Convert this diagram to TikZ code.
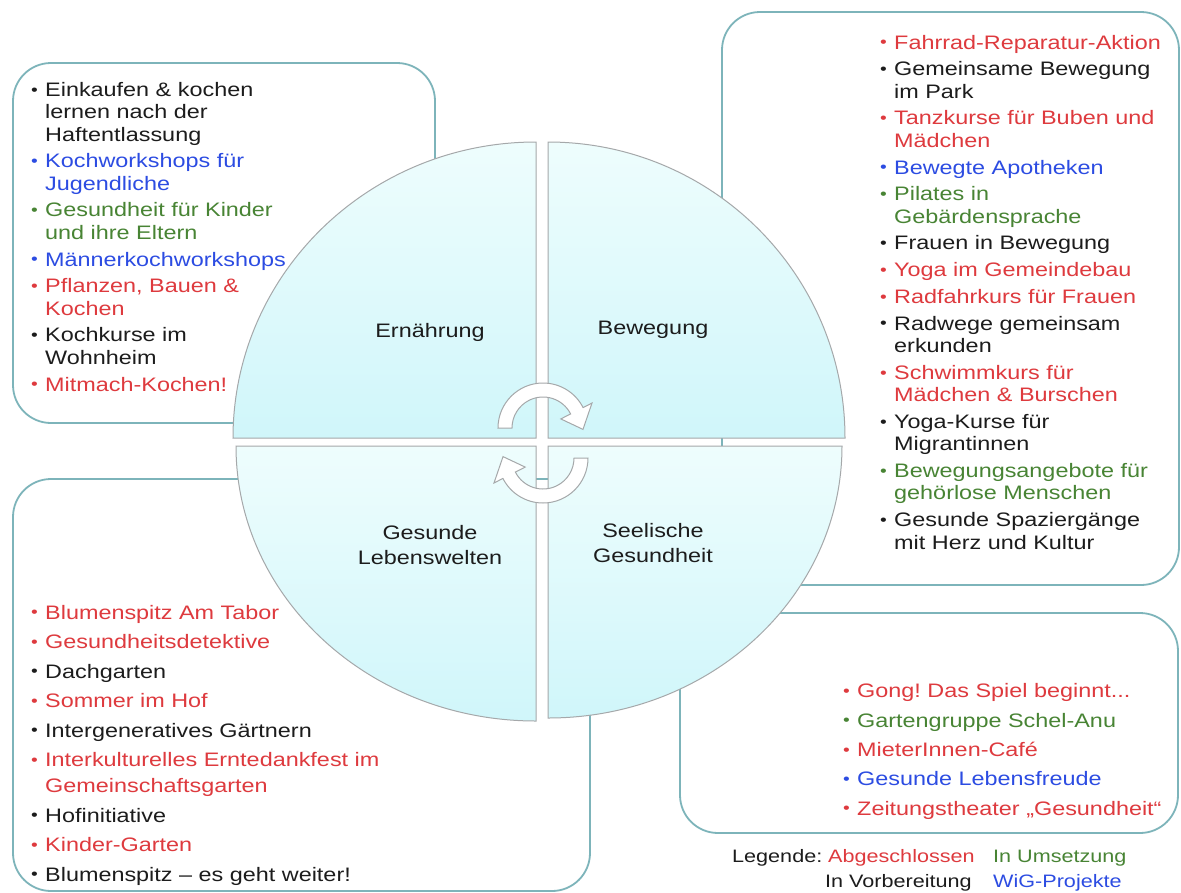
\documentclass[tikz,border=0pt]{standalone}
\usepackage{fontspec}
\setmainfont{Liberation Sans}[FakeStretch=1.2]
\usetikzlibrary{positioning,calc}
\frenchspacing
\definecolor{listred}{RGB}{222,58,62}
\definecolor{listgreen}{RGB}{72,132,52}
\definecolor{listblue}{RGB}{44,76,226}
\definecolor{listblack}{RGB}{28,28,28}
\definecolor{panelline}{RGB}{125,180,186}
\definecolor{sectorline}{RGB}{165,168,170}
\definecolor{sectortop}{RGB}{238,253,253}
\definecolor{sectorbottom}{RGB}{208,246,250}

% bullet line and continuation line of a list
\newcommand{\lit}[2]{\textcolor{#1}{\makebox[14pt][l]{\raisebox{1.4pt}{\fontsize{16}{16}\selectfont •}}#2}}
\newcommand{\cnt}[2]{\textcolor{#1}{\hspace*{14pt}#2}}

\begin{document}
\begin{tikzpicture}[
    x=1pt, y=-1pt,
    panel/.style={draw=panelline, line width=1.8pt, rounded corners=38pt, fill=white},
    sector/.style={draw=sectorline, line width=1pt, top color=sectortop, bottom color=sectorbottom},
    itemlist/.style={anchor=base west, align=left, inner sep=0pt, font=\fontsize{19.5}{22.3}\selectfont},
    sectorlabel/.style={align=center, inner sep=0pt, text=listblack, font=\fontsize{19.5}{24.5}\selectfont},
    legend/.style={anchor=base west, inner sep=0pt, font=\fontsize{18}{20}\selectfont},
    cyclearrow/.style={draw=sectorline, line width=1pt, fill=white}
]
\useasboundingbox[fill=white] (0,0) rectangle (1181,892);

% panels behind the circle
\draw[panel] (13,63) rectangle (435,423);
\draw[panel] (722,12) rectangle (1179,585);
\draw[panel] (13,479) rectangle (590,891);
\draw[panel] (680,613) rectangle (1178,833);

% the four sectors
\draw[sector] (536,438) -- (233,438) arc[start angle=180, end angle=270, x radius=303, y radius=296] -- cycle;
\draw[sector] (548,438) -- (548,142) arc[start angle=270, end angle=360, x radius=297, y radius=296] -- cycle;
\draw[sector] (536,446) -- (236,446) arc[start angle=180, end angle=90, x radius=300, y radius=275] -- cycle;
\draw[sector] (548,446) -- (842,446) arc[start angle=0, end angle=90, x radius=294, y radius=272] -- cycle;

\node[sectorlabel] (ern) at (430,332) {Ernährung};
\node[sectorlabel] (bew) at (653,330) {Bewegung};
\node[sectorlabel] (leb) at (430,545) {Gesunde\\Lebenswelten};
\node[sectorlabel] (see) at (653,543) {Seelische\\Gesundheit};

% cycle arrows
\begin{scope}[shift={(543,428)}, yscale=-1]
\draw[cyclearrow] (180:45) arc[start angle=180, end angle=27, radius=45] -- (27:55) -- (-2:40) -- (27:20) -- (27:31) arc[start angle=27, end angle=180, radius=31] -- cycle;
\end{scope}
\begin{scope}[shift={(543,458)}, yscale=-1, rotate=180]
\draw[cyclearrow] (180:45) arc[start angle=180, end angle=27, radius=45] -- (27:55) -- (-2:40) -- (27:20) -- (27:31) arc[start angle=27, end angle=180, radius=31] -- cycle;
\end{scope}

% lists, placed by the baseline of their last line
\node[itemlist] (ernlist) at (31,391) {%
\lit{listblack}{Einkaufen \& kochen}\\
\cnt{listblack}{lernen nach der}\\
\cnt{listblack}{Haftentlassung}\\[4.5pt]
\lit{listblue}{Kochworkshops für}\\
\cnt{listblue}{Jugendliche}\\[4.5pt]
\lit{listgreen}{Gesundheit für Kinder}\\
\cnt{listgreen}{und ihre Eltern}\\[4.5pt]
\lit{listblue}{Männerkochworkshops}\\[4.5pt]
\lit{listred}{Pflanzen, Bauen \&}\\
\cnt{listred}{Kochen}\\[4.5pt]
\lit{listblack}{Kochkurse im}\\
\cnt{listblack}{Wohnheim}\\[4.5pt]
\lit{listred}{Mitmach-Kochen!}};

\node[itemlist] (bewlist) at (880,549) {%
\lit{listred}{Fahrrad-Reparatur-Aktion}\\[4.5pt]
\lit{listblack}{Gemeinsame Bewegung}\\
\cnt{listblack}{im Park}\\[4.5pt]
\lit{listred}{Tanzkurse für Buben und}\\
\cnt{listred}{Mädchen}\\[4.5pt]
\lit{listblue}{Bewegte Apotheken}\\[4.5pt]
\lit{listgreen}{Pilates in}\\
\cnt{listgreen}{Gebärdensprache}\\[4.5pt]
\lit{listblack}{Frauen in Bewegung}\\[4.5pt]
\lit{listred}{Yoga im Gemeindebau}\\[4.5pt]
\lit{listred}{Radfahrkurs für Frauen}\\[4.5pt]
\lit{listblack}{Radwege gemeinsam}\\
\cnt{listblack}{erkunden}\\[4.5pt]
\lit{listred}{Schwimmkurs für}\\
\cnt{listred}{Mädchen \& Burschen}\\[4.5pt]
\lit{listblack}{Yoga-Kurse für}\\
\cnt{listblack}{Migrantinnen}\\[4.5pt]
\lit{listgreen}{Bewegungsangebote für}\\
\cnt{listgreen}{gehörlose Menschen}\\[4.5pt]
\lit{listblack}{Gesunde Spaziergänge}\\
\cnt{listblack}{mit Herz und Kultur}};

\node[itemlist, font=\fontsize{19.5}{26}\selectfont] (leblist) at (31,881) {%
\lit{listred}{Blumenspitz Am Tabor}\\[3.5pt]
\lit{listred}{Gesundheitsdetektive}\\[3.5pt]
\lit{listblack}{Dachgarten}\\[3.5pt]
\lit{listred}{Sommer im Hof}\\[3.5pt]
\lit{listblack}{Intergeneratives Gärtnern}\\[3.5pt]
\lit{listred}{Interkulturelles Erntedankfest im}\\
\cnt{listred}{Gemeinschaftsgarten}\\[3.5pt]
\lit{listblack}{Hofinitiative}\\[3.5pt]
\lit{listred}{Kinder-Garten}\\[3.5pt]
\lit{listblack}{Blumenspitz – es geht weiter!}};

\node[itemlist, font=\fontsize{19.5}{29.3}\selectfont] (seelist) at (843,815) {%
\lit{listred}{Gong! Das Spiel beginnt...}\\
\lit{listgreen}{Gartengruppe Schel-Anu}\\
\lit{listred}{MieterInnen-Café}\\
\lit{listblue}{Gesunde Lebensfreude}\\
\lit{listred}{Zeitungstheater „Gesundheit“}};

% legend
\node[legend, text=listblack] (leg) at (732,862) {Legende:};
\node[legend, text=listred] (legdone) at (828,862) {Abgeschlossen};
\node[legend, text=listgreen] (legrun) at (993,862) {In Umsetzung};
\node[legend, text=listblack] (legprep) at (825,887) {In Vorbereitung};
\node[legend, text=listblue] (legwig) at (993,887) {WiG-Projekte};
\end{tikzpicture}
\end{document}
